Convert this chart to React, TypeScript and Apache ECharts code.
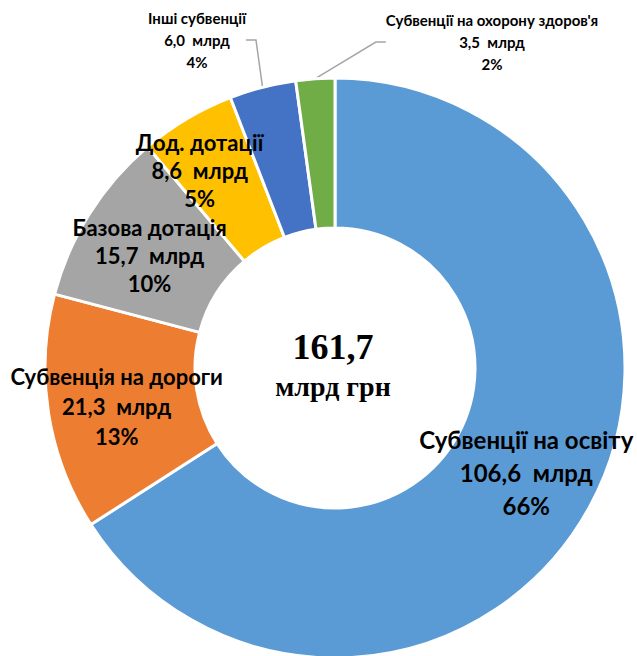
import React, { useEffect, useRef } from "react";
import * as echarts from "echarts";

const categories = [
  "Субвенції на освіту",
  "Субвенція на дороги",
  "Базова дотація",
  "Дод. дотації",
  "Інші субвенції",
  "Субвенції на охорону здоров'я",
];
const values = [106.6, 21.3, 15.7, 8.6, 6.0, 3.5];
const colors = ["#5B9BD5", "#ED7D31", "#A5A5A5", "#FFC000", "#4472C4", "#70AD47"];
const totalText = ["161,7", "млрд грн"];
const unit = "млрд";

const FONT = "Lato";

const labelStyles: any[] = [
  { fontSize: 24, lineHeight: 33, dx: 0, dy: 0 },
  { fontSize: 22, lineHeight: 30, dx: -3, dy: 5 },
  { fontSize: 22, lineHeight: 28, dx: -1, dy: 4 },
  { fontSize: 22, lineHeight: 28, dx: -24, dy: -10 },
  { fontSize: 15, lineHeight: 22, position: "outside", x: 197, y: 40 },
  { fontSize: 15, lineHeight: 22, position: "outside", x: 492, y: 42 },
];

export default function App() {
  const ref = useRef<HTMLDivElement>(null);
  useEffect(() => {
    const chart = echarts.init(ref.current!, undefined, { renderer: "svg" });
    const data = categories.map((name, i) => {
      const ls = labelStyles[i];
      const outside = ls.position === "outside";
      return {
        name,
        value: values[i],
        itemStyle: { color: colors[i] },
        label: {
          position: outside ? "outside" : "inside",
          fontSize: ls.fontSize,
          lineHeight: ls.lineHeight,
        },
        labelLine: { show: outside },
      };
    });
    chart.setOption({
      animation: false,
      series: [
        {
          type: "pie",
          center: [335, 368],
          radius: [140, 290],
          startAngle: 90,
          clockwise: true,
          percentPrecision: 0,
          avoidLabelOverlap: false,
          itemStyle: { borderColor: "#ffffff", borderWidth: 3 },
          label: {
            show: true,
            color: "#000000",
            fontFamily: FONT,
            fontWeight: "bold",
            align: "center",
            formatter: (p: any) =>
              `${p.name}\n${Number(p.value).toFixed(1).replace(".", ",")}  ${unit}\n${Math.round(p.percent)}%`,
          },
          labelLine: {
            lineStyle: { color: "#A5A5A5", width: 1.5 },
            length: 40,
            length2: 10,
          },
          labelLayout: (p: any) => {
            const ls = labelStyles[p.dataIndex];
            if (ls.position === "outside")
              return { x: ls.x, y: ls.y, align: "center", verticalAlign: "middle" };
            return { dx: ls.dx, dy: ls.dy };
          },
          data,
        },
      ],
      graphic: [
        {
          type: "text",
          x: 333,
          y: 347,
          style: {
            text: totalText[0],
            font: "bold 36px 'Liberation Serif', serif",
            fill: "#000",
            textAlign: "center",
            textVerticalAlign: "middle",
          },
        },
        {
          type: "text",
          x: 333,
          y: 386,
          style: {
            text: totalText[1],
            font: "bold 28px 'Liberation Serif', serif",
            fill: "#000",
            textAlign: "center",
            textVerticalAlign: "middle",
          },
        },
      ],
    });
    return () => chart.dispose();
  }, []);
  return (
    <div
      ref={ref}
      style={{ position: "fixed", left: 0, top: 0, width: 637, height: 656, background: "#fff" }}
    />
  );
}
